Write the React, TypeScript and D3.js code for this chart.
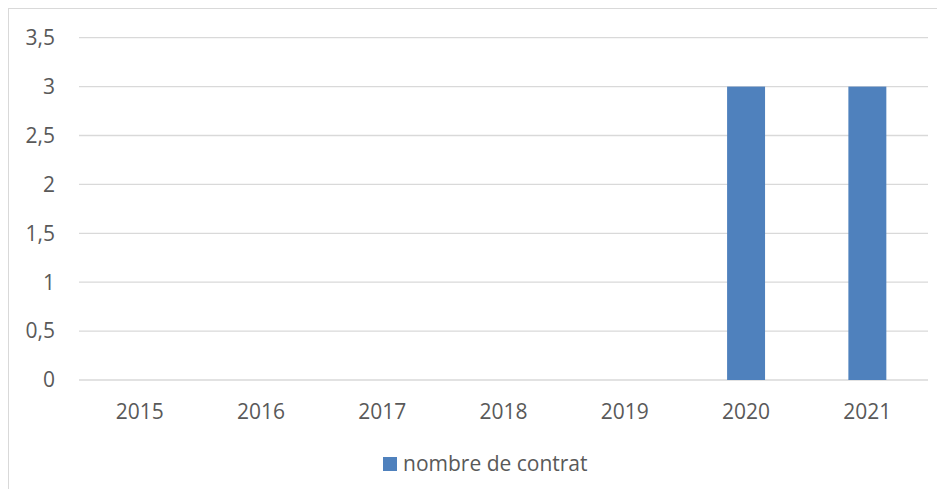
import React from 'react';
import * as d3 from 'd3';

// chart data
const years = ['2015', '2016', '2017', '2018', '2019', '2020', '2021'];
const contrats = [0, 0, 0, 0, 0, 3, 3];
const yTicks = [0, 0.5, 1, 1.5, 2, 2.5, 3, 3.5];
const seriesName = 'nombre de contrat';

const App = () => {
  const width = 929;
  const height = 481;
  const margin = { top: 29.7, right: 9, bottom: 109, left: 71 };
  const font = '"Open Sans", "Noto Sans", sans-serif';
  const textColor = '#595959';
  const fontSize = 21;

  const x = d3.scaleBand()
    .domain(years)
    .range([margin.left, width - margin.right])
    .paddingInner(0.687)
    .paddingOuter(0.3435);

  const y = d3.scaleLinear()
    .domain([0, 3.5])
    .range([height - margin.bottom, margin.top]);

  // format like "2,5"
  const fmt = (v: number) => String(v).replace('.', ',');

  return (
    <svg width={width} height={height} style={{ display: 'block' }}>
      <rect x={0.5} y={0.5} width={width + 20} height={height + 20} fill="#fff" stroke="#d9d9d9" strokeWidth={1} />

      {/* gridlines */}
      {yTicks.map(t => (
        <line key={t} x1={margin.left} x2={width - margin.right} y1={y(t)} y2={y(t)} stroke="#d9d9d9" strokeWidth={1.3} />
      ))}

      {/* y labels */}
      {yTicks.map(t => (
        <text key={'l' + t} x={47} y={y(t)} dy="0.35em" textAnchor="end" fontFamily={font} fontSize={fontSize} fill={textColor}>
          {fmt(t)}
        </text>
      ))}

      {/* bars */}
      {years.map((yr, i) => contrats[i] > 0 && (
        <rect key={yr} x={x(yr)} y={y(contrats[i])} width={x.bandwidth()} height={y(0) - y(contrats[i])} fill="#4f81bd" />
      ))}

      {/* x labels */}
      {years.map(yr => (
        <text key={'x' + yr} x={(x(yr) as number) + x.bandwidth() / 2} y={411} textAnchor="middle" fontFamily={font} fontSize={fontSize} fill={textColor}>
          {yr}
        </text>
      ))}

      {/* legend */}
      <rect x={375} y={449} width={14} height={14} fill="#4f81bd" />
      <text x={395} y={463} fontFamily={font} fontSize={fontSize} fill={textColor}>{seriesName}</text>
    </svg>
  );
};

export default App;
